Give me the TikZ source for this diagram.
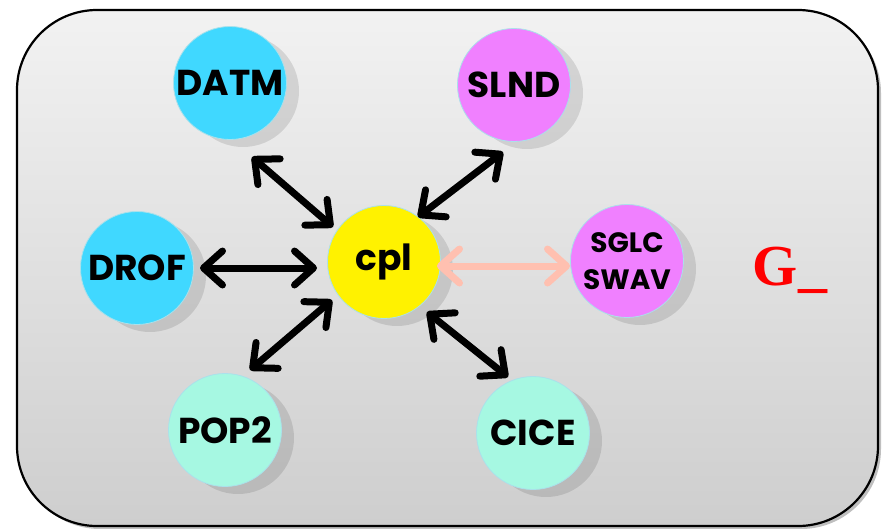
\documentclass[tikz,border=0pt]{standalone}
\usepackage{fontspec}
\setmainfont{Poppins}
\newfontfamily\tnr{Liberation Serif}
\usetikzlibrary{arrows.meta,calc}
\definecolor{cyanb}{RGB}{64,216,255}
\definecolor{magb}{RGB}{240,128,255}
\definecolor{mintb}{RGB}{166,248,226}
\definecolor{salm}{RGB}{255,192,176}
\definecolor{rimcol}{RGB}{170,225,235}
\tikzset{
  bub/.style={circle, minimum size=113pt, inner sep=0pt, draw=rimcol, line width=0.8pt, align=center, font=\bfseries\fontsize{36}{38}\selectfont},
  smallbub/.style={font=\bfseries\fontsize{28}{37}\selectfont},
  arr/.style={line width=7pt, line cap=round,
    {Straight Barb[length=19pt,width=34pt,round]}-{Straight Barb[length=19pt,width=34pt,round]}},
}
\newcommand{\planet}[6]{%
  \fill[black, opacity=0.11] (#2+13,#3+8) circle[radius=56pt];
  \node[bub, fill=#4, #6] (#1) at (#2,#3) {#5};
}
\begin{document}
\begin{tikzpicture}[x=1pt,y=-1pt]
\useasboundingbox (0,0) rectangle (884,528);
% panel
\fill[black, opacity=0.25, rounded corners=80pt] (20,13) rectangle (881,529);
\shade[top color={rgb,255:red,242;green,242;blue,242}, bottom color={rgb,255:red,206;green,206;blue,206}, rounded corners=80pt] (17,10) rectangle (878,526);
\draw[line width=2.2pt, rounded corners=80pt] (17,10) rectangle (878,526);
% planets
\planet{datm}{230}{83}{cyanb}{DATM}{}
\planet{slnd}{514}{85}{magb}{SLND}{}
\planet{drof}{137}{268}{cyanb}{DROF}{}
\planet{cpl}{384}{262}{yellow}{cpl}{}
\planet{sglc}{627}{261}{magb}{SGLC\\SWAV}{smallbub}
\planet{pop}{225}{430}{mintb}{POP2}{}
\planet{cice}{533}{433}{mintb}{CICE}{}
% arrows
\draw[arr] ($(drof)+(63,0)$) -- ($(cpl)+(-67,6)$);
\draw[arr] ($(datm)+(22,74)$) -- ($(cpl)+(-51,-35)$);
\draw[arr] ($(slnd)+(-11,67)$) -- ($(cpl)+(34,-45)$);
\draw[arr, draw=salm] ($(cpl)+(53,4)$) -- ($(sglc)+(-57,5)$);
\draw[arr] ($(cpl)+(-52,38)$) -- ($(pop)+(25,-60)$);
\draw[arr] ($(cpl)+(43,50)$) -- ($(cice)+(-25,-56)$);
% label
\node[text=red, font=\tnr\bfseries\fontsize{58}{60}\selectfont, anchor=base] (glab) at (790,285) {G\_};
\end{tikzpicture}
\end{document}
